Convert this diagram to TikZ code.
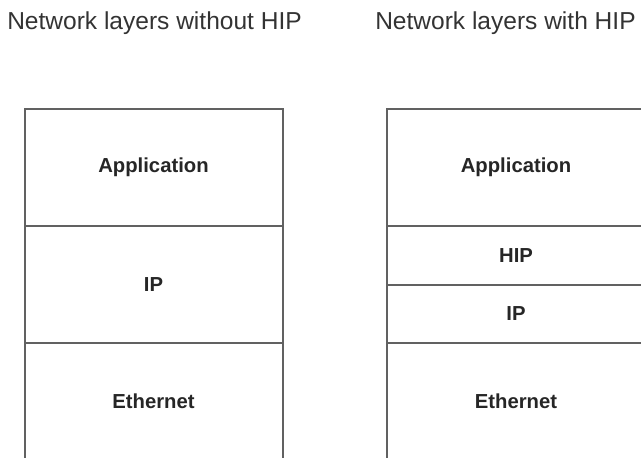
\documentclass[tikz,border=0pt]{standalone}
\usepackage{fontspec}
\setmainfont{Liberation Sans}
\usetikzlibrary{positioning}
\begin{document}
\begin{tikzpicture}[x=0.75pt, y=-0.75pt,
    layer/.style={draw=black!62, line width=1.5pt, rectangle, outer sep=0pt,
      minimum width=193.5pt, font=\fontsize{15.2}{18}\selectfont\bfseries, text=black!85},
    tall/.style={layer, minimum height=87.75pt},
    thin/.style={layer, minimum height=43.9pt},
    heading/.style={anchor=base west, inner sep=0pt, font=\fontsize{18.4}{22}\selectfont, text=black!80}]
  \path[use as bounding box, clip] (0,0) rectangle (641,457);
  \node[heading] (title1) at (7,29) {Network layers without HIP};
  \node[heading] (title2) at (375,29) {Network layers with HIP};
  % stack without HIP
  \node[tall] (app1) at (153.5,167.5) {Application};
  \node[tall, below=0pt of app1] (ip1) {IP};
  \node[tall, below=0pt of ip1] (eth1) {Ethernet};
  % stack with HIP
  \node[tall] (app2) at (516,167.5) {Application};
  \node[thin, below=0pt of app2] (hip2) {HIP};
  \node[thin, below=0pt of hip2] (ip2) {IP};
  \node[tall, below=0pt of ip2] (eth2) {Ethernet};
\end{tikzpicture}
\end{document}
